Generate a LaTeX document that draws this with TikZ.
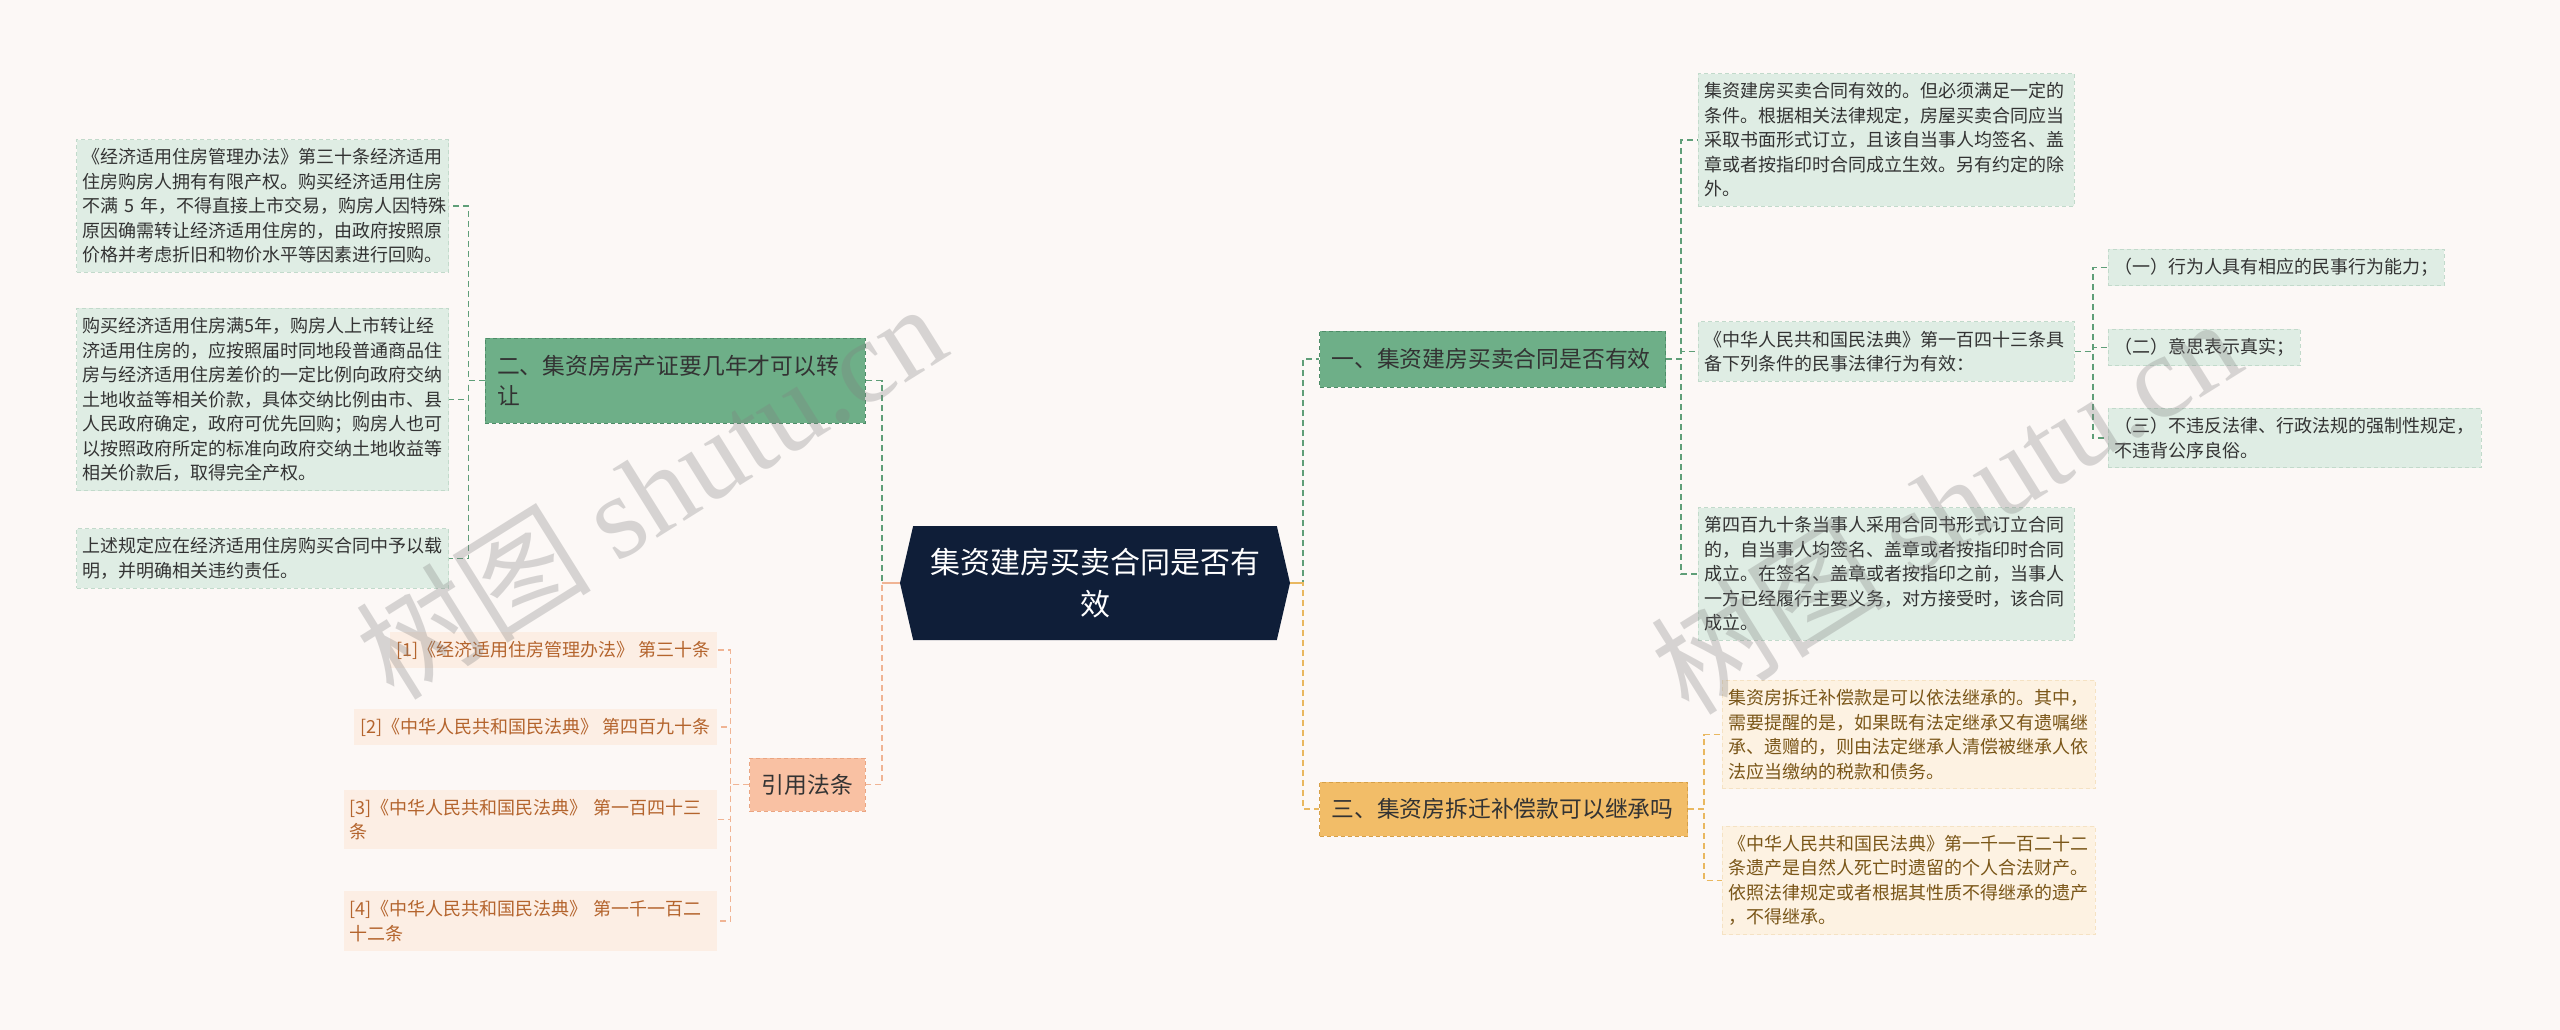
\documentclass[tikz,border=0pt]{standalone}
\usepackage{fontspec}
\setmainfont{Noto Sans CJK SC}
\newfontfamily\markfont{Liberation Serif}
\usepackage{tikz}
\usetikzlibrary{shapes.symbols}
\definecolor{pageBg}{RGB}{252, 248, 246}
\definecolor{rootNavy}{RGB}{15, 30, 56}
\definecolor{textMain}{RGB}{51, 51, 51}
\definecolor{greenDark}{RGB}{110, 175, 136}
\definecolor{greenEdge}{RGB}{78, 140, 104}
\definecolor{greenLight}{RGB}{223, 237, 228}
\definecolor{greenLine}{RGB}{95, 158, 120}
\definecolor{goldDark}{RGB}{242, 189, 104}
\definecolor{goldEdge}{RGB}{214, 160, 72}
\definecolor{goldLight}{RGB}{253, 242, 226}
\definecolor{goldText}{RGB}{122, 86, 24}
\definecolor{goldLine}{RGB}{233, 184, 96}
\definecolor{peachDark}{RGB}{249, 193, 163}
\definecolor{peachEdge}{RGB}{234, 165, 130}
\definecolor{peachLight}{RGB}{252, 238, 228}
\definecolor{peachText}{RGB}{180, 100, 45}
\definecolor{peachLine}{RGB}{240, 180, 148}

\begin{document}
\begin{tikzpicture}[
    x=1pt, y=-1pt,
    root/.style={
        signal,
        signal to=west and east,
        signal pointer angle=154,
        fill=rootNavy,
        text=white,
        minimum width=390pt,
        minimum height=114pt,
        inner sep=0pt,
        align=center,
        font=\fontsize{30}{42}\selectfont
    },
    topic/.style={
        rectangle,
        draw=#1Edge,
        fill=#1Dark,
        dash pattern=on 4pt off 3pt,
        line width=1pt,
        text=textMain,
        inner xsep=12pt,
        inner ysep=6pt,
        align=left,
        font=\fontsize{22.8}{30}\selectfont
    },
    leaf/.style={
        rectangle,
        fill=#1Light,
        draw=#1Light!80!#1Edge,
        dash pattern=on 4pt off 3pt,
        line width=0.8pt,
        inner xsep=6pt,
        inner ysep=9pt,
        align=left,
        font=\fontsize{18}{24.5}\selectfont
    },
    leafg/.style={leaf=green, text=textMain},
    leafo/.style={leaf=gold, text=goldText},
    leafp/.style={leaf=peach, draw=none, text=peachText},
    link/.style={
        draw=#1Line,
        dash pattern=on 6pt off 4pt,
        line width=1.6pt
    },
    stub/.style={
        draw=#1Line,
        line width=1.6pt
    },
    watermark/.style={
        rotate=32,
        text=gray,
        opacity=0.3,
        font=\fontsize{118}{118}\selectfont
    }
]

\useasboundingbox (0,0) rectangle (2560,1030);
\fill[pageBg] (0,0) rectangle (2560,1030);

% Root
\node[root] (root) at (1095, 583) {集资建房买卖合同是否有\\效};

% Topics
\node[topic=green, anchor=west, minimum height=56pt, text width=322pt] (t1) at (1319, 359) {一、集资建房买卖合同是否有效};
\node[topic=green, minimum height=85pt, text width=356pt] (t2) at (675, 380.5) {二、集资房房产证要几年才可以转\\让};
\node[topic=gold, anchor=west, minimum height=54pt, text width=344pt] (t3) at (1319, 809) {三、集资房拆迁补偿款可以继承吗};
\node[topic=peach, minimum width=115pt, minimum height=53pt, align=center] (t4) at (807.5, 784.5) {引用法条};

% Leaves of topic two
\node[leafg, anchor=east, text width=360pt] (l1) at (449, 206) {《经济适用住房管理办法》第三十条经济适用\\住房购房人拥有有限产权。购买经济适用住房\\不满 5 年，不得直接上市交易，购房人因特殊\\原因确需转让经济适用住房的，由政府按照原\\价格并考虑折旧和物价水平等因素进行回购。};
\node[leafg, anchor=east, text width=360pt] (l2) at (449, 399.5) {购买经济适用住房满5年，购房人上市转让经\\济适用住房的，应按照届时同地段普通商品住\\房与经济适用住房差价的一定比例向政府交纳\\土地收益等相关价款，具体交纳比例由市、县\\人民政府确定，政府可优先回购；购房人也可\\以按照政府所定的标准向政府交纳土地收益等\\相关价款后，取得完全产权。};
\node[leafg, anchor=east, text width=360pt] (l3) at (449, 558.5) {上述规定应在经济适用住房购买合同中予以载\\明，并明确相关违约责任。};

% Leaves of topic one
\node[leafg, anchor=west, text width=364pt] (r1) at (1698, 140) {集资建房买卖合同有效的。但必须满足一定的\\条件。根据相关法律规定，房屋买卖合同应当\\采取书面形式订立，且该自当事人均签名、盖\\章或者按指印时合同成立生效。另有约定的除\\外。};
\node[leafg, anchor=west, text width=364pt] (r2) at (1698, 351.5) {《中华人民共和国民法典》第一百四十三条具\\备下列条件的民事法律行为有效：};
\node[leafg, anchor=west, text width=364pt] (r3) at (1698, 574) {第四百九十条当事人采用合同书形式订立合同\\的，自当事人均签名、盖章或者按指印时合同\\成立。在签名、盖章或者按指印之前，当事人\\一方已经履行主要义务，对方接受时，该合同\\成立。};

% Conditions
\node[leafg, anchor=west] (s1) at (2108, 267.5) {（一）行为人具有相应的民事行为能力；};
\node[leafg, anchor=west] (s2) at (2108, 347.5) {（二）意思表示真实；};
\node[leafg, anchor=west, text width=361pt] (s3) at (2108, 438) {（三）不违反法律、行政法规的强制性规定，\\不违背公序良俗。};

% Leaves of topic three
\node[leafo, anchor=west, text width=361pt] (o1) at (1722, 734.5) {集资房拆迁补偿款是可以依法继承的。其中，\\需要提醒的是，如果既有法定继承又有遗嘱继\\承、遗赠的，则由法定继承人清偿被继承人依\\法应当缴纳的税款和债务。};
\node[leafo, anchor=west, text width=361pt] (o2) at (1722, 880.5) {《中华人民共和国民法典》第一千一百二十二\\条遗产是自然人死亡时遗留的个人合法财产。\\依照法律规定或者根据其性质不得继承的遗产\\，不得继承。};

% Citations
\node[leafp, anchor=east] (c1) at (717, 650) {[1]《经济适用住房管理办法》 第三十条};
\node[leafp, anchor=east] (c2) at (717, 727) {[2]《中华人民共和国民法典》 第四百九十条};
\node[leafp, anchor=east, text width=361pt] (c3) at (717, 819.5) {[3]《中华人民共和国民法典》 第一百四十三\\条};
\node[leafp, anchor=east, text width=361pt] (c4) at (717, 921) {[4]《中华人民共和国民法典》 第一千一百二\\十二条};

% Connectors
\draw[link=green] (root.west) -- ++(-18,0) |- (t2.east);
\draw[link=peach] (root.west) -- ++(-18,0) |- (t4.east);
\draw[link=green] (root.east) -- ++(13,0) |- (t1.west);
\draw[link=gold] (root.east) -- ++(13,0) |- (t3.west);
\draw[stub=peach] (root.west) -- ++(-18,0);
\draw[stub=gold] (root.east) -- ++(13,0);

\foreach \leaf in {l1,l2,l3}
    \draw[link=green] (t2.west) -- ++(-16,0) |- (\leaf.east);
\foreach \leaf in {r1,r2,r3}
    \draw[link=green] (t1.east) -- ++(15,0) |- (\leaf.west);
\foreach \leaf in {s1,s2,s3}
    \draw[link=green] (r2.east) -- ++(18,0) |- (\leaf.west);
\foreach \leaf in {o1,o2}
    \draw[link=gold] (t3.east) -- ++(16,0) |- (\leaf.west);
\foreach \leaf in {c1,c2,c3,c4}
    \draw[link=peach] (t4.west) -- ++(-19,0) |- (\leaf.east);

% Watermarks
\node[watermark] (markL) at (650, 490) {树图 {\markfont shutu.cn}};
\node[watermark] (markR) at (1945, 505) {树图 {\markfont shutu.cn}};

\end{tikzpicture}
\end{document}
